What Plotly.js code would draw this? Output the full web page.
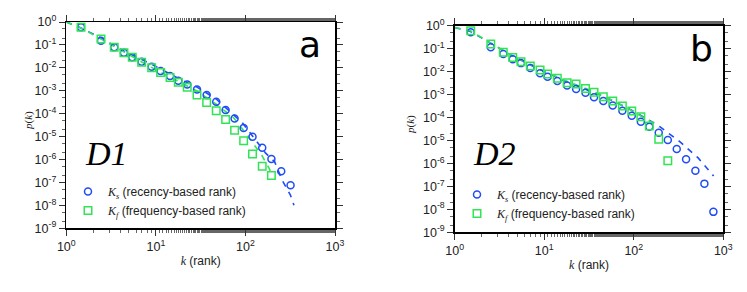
<!DOCTYPE html>
<html>
<head>
<meta charset="utf-8">
<script src="https://cdn.plot.ly/plotly-3.0.1.min.js"></script>
<style>
html,body{margin:0;padding:0;background:#fff;}
#chart{width:747px;height:292px;}
</style>
</head>
<body>
<div id="chart"></div>
<script>
// ---------- Panel a (D1) ----------
const kA_s = [1.46, 2.44, 3.43, 4.4, 5.45, 6.94, 8.98, 11.3, 14.4, 17.8, 22.4, 28.8, 36.9, 47.2, 60.1, 75.7, 95.5, 120, 154, 195, 251, 319];
const logpA_s = [-0.23, -0.82, -1.10, -1.34, -1.54, -1.73, -1.95, -2.14, -2.36, -2.56, -2.73, -2.94, -3.19, -3.48, -3.84, -4.21, -4.62, -5.01, -5.49, -5.98, -6.51, -7.12];
const kA_f = [1.46, 2.44, 3.43, 4.4, 5.45, 6.94, 8.98, 11.3, 14.4, 17.8, 22.4, 28.8, 36.9, 47.2, 60.1, 75.7, 95.5, 120, 154, 195];
const logpA_f = [-0.23, -0.74, -1.10, -1.34, -1.54, -1.76, -2.00, -2.20, -2.42, -2.63, -2.85, -3.19, -3.51, -3.87, -4.25, -4.72, -5.18, -5.76, -6.29, -6.70];
// dashed fit curves
const kA_fitS = [1, 1.46, 2.44, 4.41, 8.83, 17.6, 28.8, 47.2, 92.9, 168, 212, 257, 318, 348];
const logpA_fitS = [0, -0.26, -0.70, -1.27, -1.83, -2.45, -2.84, -3.36, -4.41, -5.72, -6.10, -6.90, -7.55, -7.99];
const kA_fitF = [1, 1.46, 2.44, 4.41, 8.83, 17.6, 28.8, 47.2, 74.3, 98.5, 127, 152, 184, 198];
const logpA_fitF = [0, -0.26, -0.74, -1.31, -1.97, -2.58, -3.01, -3.58, -4.19, -4.80, -5.37, -5.81, -6.38, -6.68];

// ---------- Panel b (D2) ----------
const kB_s = [1.51, 2.53, 3.49, 4.45, 5.5, 6.99, 8.98, 10.9, 14.0, 18.0, 22.7, 28.9, 36.0, 45.7, 58.2, 74.6, 95.0, 120, 149, 190, 240, 302, 384, 488, 615, 775];
const logpB_s = [-0.29, -0.94, -1.23, -1.46, -1.63, -1.84, -2.07, -2.22, -2.41, -2.61, -2.76, -2.92, -3.12, -3.28, -3.48, -3.70, -3.92, -4.18, -4.40, -4.66, -4.98, -5.37, -5.82, -6.32, -6.88, -8.11];
const kB_f = [1.51, 2.53, 3.49, 4.45, 5.5, 6.99, 8.98, 10.9, 14.0, 18.0, 22.7, 28.9, 36.0, 45.7, 58.2, 74.6, 95.0, 120, 149, 190, 240];
const logpB_f = [-0.22, -0.80, -1.16, -1.38, -1.57, -1.76, -1.93, -2.10, -2.29, -2.48, -2.54, -2.74, -2.90, -3.09, -3.28, -3.50, -3.72, -3.97, -4.37, -4.95, -5.88];
const kB_fitS = [1, 1.5, 2.5, 4.5, 9, 18, 45.3, 93.5, 148, 197, 329, 524, 780];
const logpB_fitS = [-0.08, -0.25, -0.75, -1.33, -1.92, -2.45, -3.06, -3.67, -4.11, -4.41, -5.06, -5.76, -6.55];
const kB_fitF = [1, 1.5, 2.5, 4.5, 9, 18, 36, 60, 95, 150, 190];
const logpB_fitF = [-0.08, -0.22, -0.75, -1.33, -1.90, -2.42, -2.88, -3.28, -3.70, -4.15, -4.45];

// tick values and labels
const xTickVals = [1, 10, 100, 1000];
const xTickText = ['10<sup>0</sup>', '10<sup>1</sup>', '10<sup>2</sup>', '10<sup>3</sup>'];
const yTickVals = [1, 1e-1, 1e-2, 1e-3, 1e-4, 1e-5, 1e-6, 1e-7, 1e-8, 1e-9];
const yTickText = ['10<sup>0</sup>', '10<sup>-1</sup>', '10<sup>-2</sup>', '10<sup>-3</sup>', '10<sup>-4</sup>',
  '10<sup>-5</sup>', '10<sup>-6</sup>', '10<sup>-7</sup>', '10<sup>-8</sup>', '10<sup>-9</sup>'];

const pw = a => a.map(v => Math.pow(10, v));
const BLUE = '#1f4cf7';
const GREEN = '#30e454';
const W = 747, H = 292;

const legS = '<span style="font-family:\'Liberation Serif\';font-style:italic">K</span><sub><span style="font-family:\'Liberation Serif\';font-style:italic">s</span></sub> (recency-based rank)';
const legF = '<span style="font-family:\'Liberation Serif\';font-style:italic">K</span><sub><span style="font-family:\'Liberation Serif\';font-style:italic">f</span></sub> (frequency-based rank)';

function fit(x, y, color, xa, ya) {
  return {x: x, y: pw(y), xaxis: xa, yaxis: ya, mode: 'lines', showlegend: false, hoverinfo: 'skip',
    line: {color: color, width: 1.6, dash: '6px,6px'}};
}
function pts(x, y, color, sym, size, name, xa, ya, leg) {
  return {x: x, y: pw(y), xaxis: xa, yaxis: ya, mode: 'markers', name: name, legend: leg,
    marker: {symbol: sym, size: size, color: color, line: {color: color, width: 1.5}}};
}

const data = [
  fit(kA_fitS, logpA_fitS, BLUE, 'x', 'y'),
  fit(kA_fitF, logpA_fitF, GREEN, 'x', 'y'),
  pts(kA_s, logpA_s, BLUE, 'circle-open', 7, legS, 'x', 'y', 'legend'),
  pts(kA_f, logpA_f, GREEN, 'square-open', 7.5, legF, 'x', 'y', 'legend'),
  fit(kB_fitS, logpB_fitS, BLUE, 'x2', 'y2'),
  fit(kB_fitF, logpB_fitF, GREEN, 'x2', 'y2'),
  pts(kB_s, logpB_s, BLUE, 'circle-open', 7, legS, 'x2', 'y2', 'legend2'),
  pts(kB_f, logpB_f, GREEN, 'square-open', 7.5, legF, 'x2', 'y2', 'legend2')
];

const tickFont = {family: 'Liberation Sans, Arial, sans-serif', size: 12.5, color: '#222'};
function xax(dom, anchor) {
  return {type: 'log', domain: dom, anchor: anchor, range: [0, 3],
    tickmode: 'array', tickvals: xTickVals, ticktext: xTickText,
    ticks: 'outside', ticklen: 6, tickwidth: 1, tickcolor: '#333',
    minor: {ticks: 'outside', ticklen: 3, tickwidth: 1, tickcolor: '#666', showgrid: false},
    showline: true, linecolor: '#000', linewidth: 1.5, mirror: 'allticks',
    showgrid: false, zeroline: false, tickfont: tickFont,
    title: {text: '<span style="font-family:\'Liberation Serif\';font-style:italic">k</span> (rank)',
      font: {family: 'Liberation Sans, Arial, sans-serif', size: 12, color: '#222'}, standoff: 4}};
}
function yax(dom, anchor) {
  return {type: 'log', domain: dom, anchor: anchor, range: [-9, 0],
    tickmode: 'array', tickvals: yTickVals, ticktext: yTickText,
    ticks: 'outside', ticklen: 6, tickwidth: 1, tickcolor: '#333',
    minor: {ticks: 'outside', ticklen: 3, tickwidth: 1, tickcolor: '#666', showgrid: false},
    showline: true, linecolor: '#000', linewidth: 1.5, mirror: 'allticks',
    showgrid: false, zeroline: false, tickfont: tickFont};
}
function ytitle(x, y) {
  return {text: '<i>p</i>(<i>k</i>)', xref: 'paper', yref: 'paper', x: x / W, y: 1 - y / H,
    xanchor: 'center', yanchor: 'middle', textangle: -90, showarrow: false,
    font: {family: 'Liberation Serif, serif', size: 11, color: '#222'}};
}

const legFont = {family: 'Liberation Sans, Arial, sans-serif', size: 12, color: '#222'};
const layout = {
  width: W, height: H,
  margin: {l: 0, r: 0, t: 0, b: 0, pad: 0},
  paper_bgcolor: '#fff', plot_bgcolor: '#fff',
  showlegend: true,
  xaxis: xax([66.3 / W, 335 / W], 'y'),
  yaxis: yax([1 - 228.3 / H, 1 - 22 / H], 'x'),
  xaxis2: xax([454.7 / W, 723.3 / W], 'y2'),
  yaxis2: yax([1 - 232.3 / H, 1 - 25.7 / H], 'x2'),
  legend: {x: 68 / W, y: 1 - 177 / H, xanchor: 'left', yanchor: 'top', bgcolor: 'rgba(0,0,0,0)',
    font: legFont, tracegroupgap: 0},
  legend2: {x: 457 / W, y: 1 - 180 / H, xanchor: 'left', yanchor: 'top', bgcolor: 'rgba(0,0,0,0)',
    font: legFont, tracegroupgap: 0},
  annotations: [
    ytitle(28, 121),
    ytitle(411, 124),
    {text: 'a', xref: 'paper', yref: 'paper', x: 310 / W, y: 1 - 58 / H, xanchor: 'center', yanchor: 'bottom', yshift: -9,
      showarrow: false, font: {family: 'DejaVu Sans, sans-serif', size: 36, color: '#000'}},
    {text: 'b', xref: 'paper', yref: 'paper', x: 701 / W, y: 1 - 62 / H, xanchor: 'center', yanchor: 'bottom', yshift: -9,
      showarrow: false, font: {family: 'DejaVu Sans, sans-serif', size: 36, color: '#000'}},
    {text: '<i>D1</i>', xref: 'paper', yref: 'paper', x: 83 / W, y: 1 - 153 / H, xanchor: 'left', yanchor: 'middle',
      showarrow: false, font: {family: 'Liberation Serif, serif', size: 34, color: '#000'}},
    {text: '<i>D2</i>', xref: 'paper', yref: 'paper', x: 471 / W, y: 1 - 153 / H, xanchor: 'left', yanchor: 'middle',
      showarrow: false, font: {family: 'Liberation Serif, serif', size: 34, color: '#000'}}
  ]
};

Plotly.newPlot('chart', data, layout, {staticPlot: true, displayModeBar: false});
</script>
</body>
</html>
